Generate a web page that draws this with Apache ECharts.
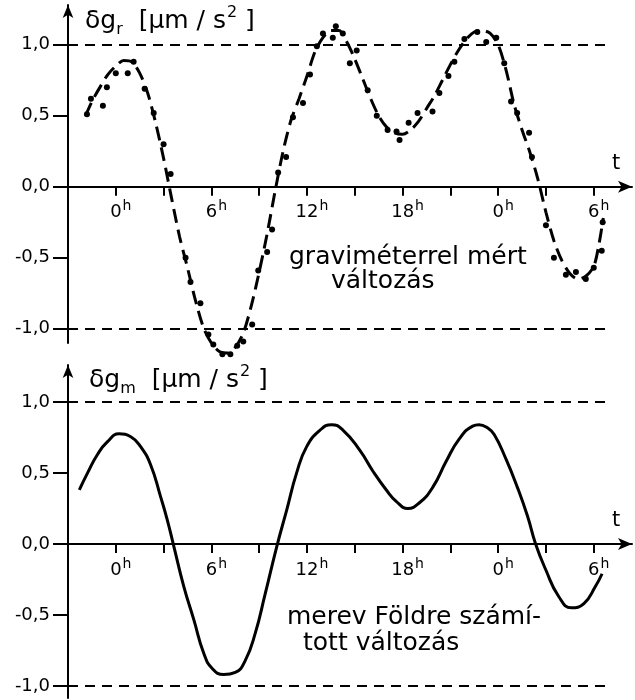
<!DOCTYPE html>
<html>
<head>
<meta charset="utf-8">
<script src="https://cdn.jsdelivr.net/npm/echarts@6/dist/echarts.min.js"></script>
<style>
  html, body { margin: 0; padding: 0; background: #fff; }
  #myChart { width: 635px; height: 700px; }
</style>
</head>
<body>
<div id="myChart"></div>
<script>
// mért változás (graviméter): pontok
const dotTime = [-1.81, -1.56, -0.81, -0.56, 0.0, 0.75, 1.12, 1.81, 2.38, 3.0, 3.44,
  4.38, 4.69, 5.31, 5.81, 6.12, 6.69, 7.19, 7.62, 8.0, 8.56, 8.94, 9.5, 9.81,
  10.19, 10.69, 11.12, 11.75, 12.19, 12.62, 13.0, 13.62, 13.81, 14.25, 14.69, 15.12,
  15.81, 16.38, 17.06, 17.62, 17.81, 18.38, 18.94, 19.88, 20.31, 20.88, 21.25,
  21.88, 22.69, 23.25, 23.88, 24.38, 24.81, 25.19, 25.94, 26.12,
  27.0, 27.5, 28.25, 28.88, 29.5, 30.0, 30.5, 30.56]
const dotValue = [0.51, 0.62, 0.57, 0.70, 0.80, 0.80, 0.88, 0.69, 0.52, 0.30, 0.09,
  -0.50, -0.67, -0.82, -1.04, -1.11, -1.18, -1.18, -1.12, -1.09, -0.97, -0.59, -0.46, -0.30,
  0.10, 0.21, 0.49, 0.59, 0.79, 0.99, 1.08, 1.05, 1.13, 1.08, 0.87, 0.96,
  0.68, 0.50, 0.40, 0.39, 0.33, 0.45, 0.52, 0.53, 0.66, 0.78, 0.88,
  1.04, 1.09, 1.02, 1.05, 0.87, 0.60, 0.52, 0.38, 0.21,
  -0.27, -0.50, -0.62, -0.60, -0.65, -0.57, -0.45, -0.25]

// illesztett görbe (szaggatott)
const fitTime = [-1.9, -1.5, -1.0, -0.5, 0.0, 0.5, 1.0, 1.5, 2.0, 2.5, 3.0, 3.5, 4.0, 4.5,
  5.0, 5.5, 6.0, 6.5, 7.0, 7.5, 8.0, 8.5, 9.0, 9.5, 10.0, 10.5, 11.0, 11.5,
  12.0, 12.5, 13.0, 13.5, 14.0, 14.5, 15.0, 15.5, 16.0, 16.5, 17.0, 17.5,
  18.0, 18.5, 19.0, 19.5, 20.0, 20.5, 21.0, 21.5, 22.0, 22.5, 23.0, 23.5,
  24.0, 24.5, 25.0, 25.5, 26.0, 26.5, 27.0, 27.5, 28.0, 28.5, 29.0, 29.5,
  30.0, 30.3, 30.6]
const fitValue = [0.50, 0.60, 0.70, 0.79, 0.85, 0.89, 0.88, 0.80, 0.66, 0.45, 0.20, -0.08, -0.35, -0.57,
  -0.80, -0.99, -1.10, -1.16, -1.17, -1.13, -1.03, -0.84, -0.60, -0.33, -0.03, 0.25, 0.47, 0.62,
  0.78, 0.95, 1.05, 1.10, 1.10, 1.02, 0.90, 0.76, 0.62, 0.50, 0.42, 0.38,
  0.37, 0.40, 0.46, 0.55, 0.64, 0.75, 0.86, 0.96, 1.04, 1.09, 1.10, 1.08,
  1.00, 0.82, 0.58, 0.40, 0.24, 0.05, -0.18, -0.38, -0.52, -0.61, -0.65, -0.63,
  -0.56, -0.42, -0.22]

// merev Földre számított változás
const calcTime = [-2.29, -1.77, -1.15, -0.52, 0.21, 0.94, 1.56, 2.19, 2.81, 3.23, 3.65,
  4.27, 4.9, 5.52, 6.04, 6.77, 7.5, 8.13, 8.75, 9.38, 10.1, 10.73, 11.35, 11.98,
  12.81, 13.54, 14.27, 15.31, 16.15, 16.98, 17.6, 18.33, 19.06, 19.9, 20.73,
  21.56, 22.4, 22.8, 23.3, 23.75, 24.48, 25.2, 25.83, 26.35, 26.98, 27.8, 28.6,
  29.38, 30.1, 30.52]
const calcValue = [0.38, 0.50, 0.63, 0.72, 0.775, 0.755, 0.685, 0.556, 0.333, 0.17, -0.02,
  -0.30, -0.535, -0.77, -0.875, -0.92, -0.905, -0.82, -0.63, -0.35, -0.02, 0.24, 0.50, 0.685,
  0.80, 0.84, 0.80, 0.66, 0.51, 0.38, 0.30, 0.25, 0.29, 0.40, 0.58,
  0.74, 0.83, 0.84, 0.82, 0.77, 0.60, 0.40, 0.20, 0.0, -0.18, -0.37, -0.45,
  -0.42, -0.30, -0.21]

const hourTicks = [0, 3, 6, 9, 12, 15, 18, 21, 24, 27, 30]
const hourLabels = [0, 6, 12, 18, 24, 30]
const valueTicks = [-1, -0.5, 0, 0.5, 1]
const refLevels = [1, -1]
const refSpan = [-3, 31]

function zip (a, b) {
  return a.map((v, i) => [v, b[i]])
}

const font = 'DejaVu Sans'
const grids = [
  { left: 68, top: 5, width: 564, height: 338 },
  { left: 68, top: 365, width: 564, height: 333 }
]
const yRanges = [[-1.1, 1.28], [-1.085, 1.26]]

function makeX (gridIndex) {
  // az időtengely a 0 szintre kerül
  const r = yRanges[gridIndex]
  const off = -grids[gridIndex].height * (0 - r[0]) / (r[1] - r[0])
  return {
    type: 'value',
    gridIndex: gridIndex,
    min: -3,
    max: 32.4,
    offset: off,
    name: 't',
    nameLocation: 'end',
    nameGap: -16,
    nameTextStyle: { fontSize: 21, color: '#000', fontFamily: font, align: 'center', verticalAlign: 'bottom', padding: [0, 0, 13, 0] },
    splitLine: { show: false },
    axisLine: {
      onZero: false,
      symbol: ['none', 'arrow'],
      symbolSize: [9, 14],
      lineStyle: { color: '#000', width: 2 }
    },
    axisTick: { customValues: hourTicks, length: 9, lineStyle: { color: '#000', width: 2 } },
    axisLabel: {
      customValues: hourLabels,
      margin: 13,
      fontSize: 18,
      color: '#000',
      fontFamily: font,
      formatter: function (v) {
        const h = ((v % 24) + 24) % 24
        return '{p|}{n|' + h + '}{h|h}'
      },
      rich: {
        p: { width: 10 },
        n: { fontSize: 18, color: '#000', fontFamily: font, verticalAlign: 'bottom' },
        h: { fontSize: 14, color: '#000', fontFamily: font, verticalAlign: 'bottom', padding: [0, 0, 8, 1] }
      }
    }
  }
}

function makeY (gridIndex) {
  return {
    type: 'value',
    gridIndex: gridIndex,
    min: yRanges[gridIndex][0],
    max: yRanges[gridIndex][1],
    splitLine: { show: false },
    axisLine: {
      show: true,
      onZero: false,
      symbol: ['none', 'arrow'],
      symbolSize: [8, 13],
      lineStyle: { color: '#000', width: 2 }
    },
    axisTick: { show: true, customValues: valueTicks, length: 15, lineStyle: { color: '#000', width: 2 } },
    axisLabel: {
      customValues: valueTicks,
      margin: 18,
      fontSize: 18,
      color: '#000',
      fontFamily: font,
      formatter: function (v) { return v.toFixed(1).replace('.', ',') }
    }
  }
}

function refLines () {
  return {
    silent: true,
    symbol: ['none', 'none'],
    label: { show: false },
    lineStyle: { color: '#000', width: 2, type: [10, 7] },
    data: refLevels.map(l => [{ coord: [refSpan[0], l] }, { coord: [refSpan[1], l] }])
  }
}

function header (sub) {
  return '{a|δg}{s|' + sub + '}{a|  [μm / s}{e|2}{a| ]}'
}
const headRich = {
  a: { fontSize: 25, fontWeight: 'normal', color: '#000', fontFamily: font, padding: [0, 0, 4, 0], verticalAlign: 'bottom' },
  s: { fontSize: 16, fontWeight: 'normal', color: '#000', fontFamily: font, verticalAlign: 'bottom' },
  e: { fontSize: 16, fontWeight: 'normal', color: '#000', fontFamily: font, verticalAlign: 'bottom', padding: [0, 0, 17, 1] }
}
const noteStyle = { fontSize: 25, fontWeight: 'normal', color: '#000', fontFamily: font }

const myChart = echarts.init(document.getElementById('myChart'))
myChart.setOption({
  animation: false,
  backgroundColor: '#fff',
  textStyle: { fontFamily: font },
  title: [
    { text: header('r'), left: 80, top: 0, textStyle: { rich: headRich } },
    { text: header('m'), left: 84, top: 359, textStyle: { rich: headRich } },
    { text: 'graviméterrel mért', left: 284, top: 240, textStyle: noteStyle },
    { text: 'változás', left: 326, top: 264, textStyle: noteStyle },
    { text: 'merev Földre számí-', left: 282, top: 600, textStyle: noteStyle },
    { text: 'tott változás', left: 298, top: 626, textStyle: noteStyle }
  ],
  grid: grids,
  xAxis: [makeX(0), makeX(1)],
  yAxis: [makeY(0), makeY(1)],
  series: [
    {
      type: 'line',
      xAxisIndex: 0,
      yAxisIndex: 0,
      data: zip(fitTime, fitValue),
      smooth: 0.3,
      symbol: 'none',
      clip: false,
      lineStyle: { color: '#000', width: 3, type: [14, 7] },
      markLine: refLines()
    },
    {
      type: 'scatter',
      xAxisIndex: 0,
      yAxisIndex: 0,
      data: zip(dotTime, dotValue),
      symbolSize: 6,
      clip: false,
      itemStyle: { color: '#000', opacity: 1 }
    },
    {
      type: 'line',
      xAxisIndex: 1,
      yAxisIndex: 1,
      data: zip(calcTime, calcValue),
      smooth: 0.5,
      symbol: 'none',
      clip: false,
      lineStyle: { color: '#000', width: 3 },
      markLine: refLines()
    }
  ]
})
</script>
</body>
</html>
